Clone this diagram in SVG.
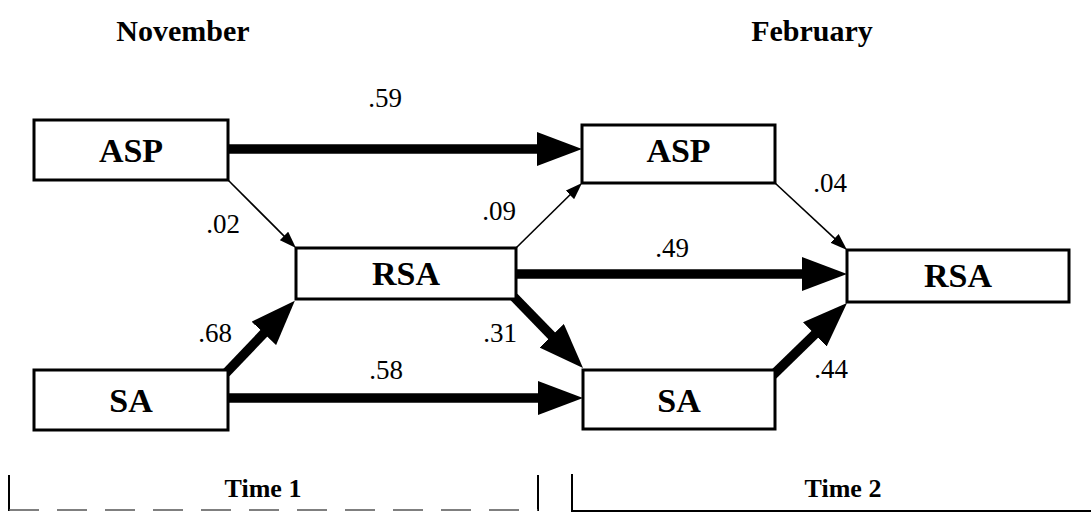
<svg xmlns="http://www.w3.org/2000/svg" width="1091" height="512" viewBox="0 0 1091 512">
<style>
.box{fill:#fff;stroke:#000;stroke-width:3}
.lbl{font-family:"Liberation Serif",serif;font-weight:bold;font-size:34px;text-anchor:middle;fill:#000}
.hd{font-family:"Liberation Serif",serif;font-weight:bold;font-size:30px;text-anchor:middle;fill:#000}
.num{font-family:"Liberation Serif",serif;font-size:27px;text-anchor:middle;fill:#000}
.tm{font-family:"Liberation Serif",serif;font-weight:bold;font-size:26px;text-anchor:middle;fill:#000}
.thick{stroke:#000;stroke-width:9.5;fill:none;marker-end:url(#big)}
.thin{stroke:#000;stroke-width:1.6;fill:none;marker-end:url(#small)}
</style>
<defs>
<marker id="big" markerUnits="userSpaceOnUse" viewBox="0 0 45 34" markerWidth="45" markerHeight="34" refX="20" refY="17" orient="auto"><path d="M0,0 L45,17 L0,34 z" fill="#000"/></marker>
<marker id="small" markerUnits="userSpaceOnUse" viewBox="0 0 17 12" markerWidth="17" markerHeight="12" refX="7" refY="6" orient="auto"><path d="M0,0 L17,6 L0,12 z" fill="#000"/></marker>
</defs>
<text class="hd" x="183" y="41">November</text>
<text class="hd" x="812" y="41">February</text>
<g id="connectors">
<line class="thick" x1="229" y1="149" x2="557" y2="149"/>
<line class="thin" x1="228" y1="180" x2="288.9" y2="240.9"/>
<line class="thick" x1="226" y1="373" x2="277.6" y2="318.9"/>
<line class="thick" x1="229" y1="398" x2="558" y2="398"/>
<line class="thin" x1="516" y1="248" x2="574.9" y2="190"/>
<line class="thick" x1="517" y1="274" x2="822" y2="274"/>
<line class="thick" x1="514" y1="297" x2="565.6" y2="350.1"/>
<line class="thin" x1="775" y1="183" x2="839.7" y2="243.2"/>
<line class="thick" x1="773" y1="375" x2="829.1" y2="320.4"/>
<text class="num" x="385" y="107">.59</text>
<text class="num" x="223" y="233">.02</text>
<text class="num" x="215" y="342">.68</text>
<text class="num" x="386" y="379">.58</text>
<text class="num" x="499" y="220">.09</text>
<text class="num" x="672" y="257">.49</text>
<text class="num" x="500" y="342">.31</text>
<text class="num" x="830" y="192">.04</text>
<text class="num" x="831" y="378">.44</text>
</g>
<g id="asp1"><rect class="box" x="34" y="120" width="194" height="60"/><text class="lbl" x="131" y="162">ASP</text></g>
<g id="rsa1"><rect class="box" x="296" y="248" width="220" height="51"/><text class="lbl" x="406" y="285">RSA</text></g>
<g id="sa1"><rect class="box" x="34" y="370" width="194" height="60"/><text class="lbl" x="131" y="412">SA</text></g>
<g id="asp2"><rect class="box" x="582" y="125" width="193" height="58"/><text class="lbl" x="678.5" y="162">ASP</text></g>
<g id="rsa2"><rect class="box" x="847" y="250" width="222" height="52"/><text class="lbl" x="958" y="287">RSA</text></g>
<g id="sa2"><rect class="box" x="583" y="370" width="192" height="59"/><text class="lbl" x="679" y="412">SA</text></g>
<g id="time1">
<path d="M9,475 V511 M538,475 V511" stroke="#000" stroke-width="2" fill="none"/>
<line x1="9" y1="510" x2="538" y2="510" stroke="#555" stroke-width="1.5" stroke-dasharray="30,18"/>
<text class="tm" x="263" y="497">Time 1</text>
</g>
<g id="time2">
<path d="M572,474 V511 H1091" stroke="#000" stroke-width="2" fill="none"/>
<text class="tm" x="843" y="497">Time 2</text>
</g>
</svg>
